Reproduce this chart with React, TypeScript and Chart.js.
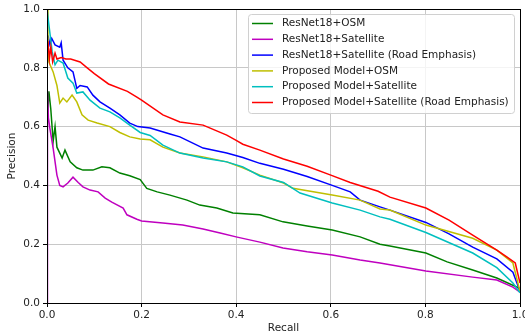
import React, { useEffect, useRef } from 'react';
import { Chart, registerables } from 'chart.js';

Chart.register(...registerables);

const seriesLabels = [
  'ResNet18+OSM',
  'ResNet18+Satellite',
  'ResNet18+Satellite (Road Emphasis)',
  'Proposed Model+OSM',
  'Proposed Model+Satellite',
  'Proposed Model+Satellite (Road Emphasis)',
];
const seriesColors = ['#008000', '#bf00bf', '#0000ff', '#bfbf00', '#00bfbf', '#ff0000'];

const xTicks = [0, 0.2, 0.4, 0.6, 0.8, 1.0];
const yTicks = [0, 0.2, 0.4, 0.6, 0.8, 1.0];

const greenRecall = [0, 0.004, 0.008, 0.013, 0.017, 0.021, 0.032, 0.038, 0.049, 0.063, 0.076, 0.097, 0.116, 0.133, 0.154, 0.175, 0.197, 0.211, 0.233, 0.26, 0.296, 0.323, 0.359, 0.393, 0.45, 0.499, 0.55, 0.603, 0.662, 0.704, 0.725, 0.801, 0.846, 0.9, 0.951, 0.998, 1.0];
const greenPrecision = [0.6, 0.72, 0.66, 0.55, 0.6, 0.53, 0.493, 0.52, 0.48, 0.46, 0.452, 0.452, 0.463, 0.46, 0.442, 0.433, 0.42, 0.39, 0.378, 0.367, 0.35, 0.333, 0.323, 0.306, 0.3, 0.276, 0.262, 0.248, 0.225, 0.2, 0.194, 0.17, 0.14, 0.112, 0.085, 0.051, 0.04];

const magentaRecall = [0, 0.001, 0.003, 0.006, 0.013, 0.021, 0.027, 0.034, 0.044, 0.055, 0.066, 0.076, 0.091, 0.108, 0.123, 0.137, 0.161, 0.169, 0.19, 0.2, 0.245, 0.287, 0.33, 0.366, 0.402, 0.45, 0.499, 0.55, 0.603, 0.662, 0.704, 0.801, 0.9, 0.951, 0.985, 1.0];
const magentaPrecision = [0, 0.72, 0.63, 0.595, 0.527, 0.435, 0.4, 0.395, 0.408, 0.428, 0.41, 0.395, 0.384, 0.378, 0.357, 0.343, 0.323, 0.3, 0.285, 0.279, 0.272, 0.265, 0.252, 0.238, 0.224, 0.207, 0.187, 0.174, 0.163, 0.146, 0.136, 0.109, 0.088, 0.078, 0.054, 0.037];

const blueRecall = [0.002, 0.006, 0.01, 0.017, 0.027, 0.03, 0.034, 0.044, 0.055, 0.063, 0.07, 0.085, 0.097, 0.112, 0.133, 0.154, 0.175, 0.192, 0.218, 0.26, 0.281, 0.33, 0.38, 0.414, 0.45, 0.5, 0.55, 0.603, 0.641, 0.662, 0.704, 0.725, 0.801, 0.85, 0.9, 0.951, 0.985, 1.0];
const bluePrecision = [0.91, 0.88, 0.9, 0.878, 0.87, 0.885, 0.826, 0.8, 0.786, 0.73, 0.74, 0.735, 0.707, 0.684, 0.663, 0.64, 0.612, 0.6, 0.595, 0.575, 0.565, 0.527, 0.51, 0.495, 0.475, 0.455, 0.43, 0.4, 0.378, 0.35, 0.327, 0.316, 0.274, 0.235, 0.19, 0.15, 0.105, 0.04];

const yellowRecall = [0, 0.002, 0.004, 0.013, 0.021, 0.027, 0.034, 0.042, 0.053, 0.063, 0.074, 0.087, 0.106, 0.133, 0.154, 0.175, 0.197, 0.218, 0.245, 0.281, 0.33, 0.38, 0.414, 0.45, 0.5, 0.52, 0.603, 0.662, 0.704, 0.725, 0.801, 0.9, 0.951, 0.985, 1.0];
const yellowPrecision = [1.0, 0.9, 0.82, 0.786, 0.74, 0.68, 0.697, 0.684, 0.707, 0.684, 0.64, 0.622, 0.612, 0.6, 0.58, 0.565, 0.558, 0.555, 0.53, 0.51, 0.497, 0.48, 0.46, 0.435, 0.408, 0.39, 0.367, 0.35, 0.32, 0.316, 0.265, 0.22, 0.18, 0.136, 0.04];

const cyanRecall = [0, 0.004, 0.011, 0.017, 0.023, 0.034, 0.044, 0.055, 0.063, 0.076, 0.091, 0.112, 0.133, 0.154, 0.175, 0.197, 0.218, 0.245, 0.281, 0.33, 0.38, 0.414, 0.45, 0.5, 0.535, 0.603, 0.662, 0.704, 0.725, 0.801, 0.9, 0.951, 0.985, 1.0];
const cyanPrecision = [1.0, 0.946, 0.854, 0.81, 0.826, 0.816, 0.765, 0.748, 0.714, 0.718, 0.69, 0.663, 0.65, 0.63, 0.605, 0.58, 0.57, 0.537, 0.51, 0.493, 0.48, 0.463, 0.432, 0.41, 0.374, 0.34, 0.316, 0.293, 0.285, 0.24, 0.17, 0.12, 0.068, 0.035];

const redRecall = [0, 0.002, 0.005, 0.008, 0.012, 0.017, 0.021, 0.03, 0.04, 0.05, 0.07, 0.085, 0.1, 0.13, 0.17, 0.19, 0.2, 0.245, 0.281, 0.33, 0.345, 0.38, 0.4, 0.414, 0.45, 0.5, 0.55, 0.6, 0.641, 0.7, 0.725, 0.801, 0.85, 0.9, 0.951, 0.972, 0.99, 1.0];
const redPrecision = [0.86, 0.89, 0.83, 0.87, 0.82, 0.85, 0.83, 0.835, 0.83, 0.83, 0.82, 0.8, 0.78, 0.745, 0.72, 0.7, 0.69, 0.64, 0.616, 0.605, 0.595, 0.571, 0.553, 0.54, 0.52, 0.49, 0.465, 0.435, 0.41, 0.38, 0.36, 0.323, 0.282, 0.231, 0.18, 0.157, 0.136, 0.068];

const recallSeries = [greenRecall, magentaRecall, blueRecall, yellowRecall, cyanRecall, redRecall];
const precisionSeries = [greenPrecision, magentaPrecision, bluePrecision, yellowPrecision, cyanPrecision, redPrecision];

const FONT = '"DejaVu Sans", sans-serif';
const TEXT = '#222222';

const framePlugin = {
  id: 'frameAndLegend',
  afterDatasetsDraw(chart: any) {
    const { ctx, chartArea } = chart;
    const l = Math.round(chartArea.left) + 0.5;
    const t = Math.round(chartArea.top) + 0.5;
    const r = Math.round(chartArea.right) + 0.5;
    const b = Math.round(chartArea.bottom) + 0.5;
    ctx.save();
    ctx.strokeStyle = '#000000';
    ctx.lineWidth = 1;
    ctx.strokeRect(l, t, r - l, b - t);

    // legend
    const bx = 248.5, by = 14.5, bw = 266, bh = 99;
    ctx.beginPath();
    if (ctx.roundRect) ctx.roundRect(bx, by, bw, bh, 3);
    else ctx.rect(bx, by, bw, bh);
    ctx.fillStyle = 'rgba(255,255,255,0.8)';
    ctx.fill();
    ctx.strokeStyle = '#d0d0d0';
    ctx.lineWidth = 1;
    ctx.stroke();
    ctx.font = '10.5px ' + FONT;
    ctx.textBaseline = 'middle';
    ctx.textAlign = 'left';
    chart.data.datasets.forEach((ds: any, i: number) => {
      const yy = 23.5 + i * 15.8;
      ctx.strokeStyle = ds.borderColor;
      ctx.lineWidth = 1.5;
      ctx.beginPath();
      ctx.moveTo(252, yy);
      ctx.lineTo(273, yy);
      ctx.stroke();
      ctx.fillStyle = TEXT;
      ctx.fillText(ds.label, 282, yy);
    });
    ctx.restore();
  },
};

export default function App() {
  const ref = useRef<HTMLCanvasElement>(null);
  useEffect(() => {
    document.body.style.margin = '0';
    const canvas = ref.current!;
    const datasets = seriesLabels.map((label, i) => ({
      label,
      data: recallSeries[i].map((x, j) => ({ x, y: precisionSeries[i][j] })),
      borderColor: seriesColors[i],
      backgroundColor: seriesColors[i],
      borderWidth: 1.5,
      pointRadius: 0,
      tension: 0,
      fill: false,
      order: seriesLabels.length - i,
    }));
    const chart = new Chart(canvas, {
      type: 'line',
      data: { datasets },
      options: {
        animation: false,
        responsive: false,
        devicePixelRatio: 1,
        layout: { padding: { top: 9, right: 5, bottom: 0, left: 0 } },
        plugins: { legend: { display: false }, tooltip: { enabled: false } },
        scales: {
          x: {
            type: 'linear',
            min: 0,
            max: 1,
            afterBuildTicks: (s: any) => { s.ticks = xTicks.map((v) => ({ value: v })); },
            afterFit: (s: any) => { s.height = 32; s.paddingLeft = 0; s.paddingRight = 0; },
            ticks: {
              callback: (v: any) => Number(v).toFixed(1),
              font: { family: FONT, size: 10.5 },
              color: TEXT,
              padding: 2,
              maxRotation: 0,
              autoSkip: false,
            },
            grid: { color: '#c8c8c8', lineWidth: 1, tickColor: '#000', tickLength: 4 },
            border: { display: false },
            title: { display: true, text: 'Recall', font: { family: FONT, size: 10.5 }, color: TEXT, padding: { top: 0, bottom: 0 } },
          },
          y: {
            type: 'linear',
            min: 0,
            max: 1,
            afterBuildTicks: (s: any) => { s.ticks = yTicks.map((v) => ({ value: v })); },
            afterFit: (s: any) => { s.width = 47; s.paddingTop = 0; s.paddingBottom = 0; },
            ticks: {
              callback: (v: any) => Number(v).toFixed(1),
              font: { family: FONT, size: 10.5 },
              color: TEXT,
              padding: 3,
              autoSkip: false,
            },
            grid: { color: '#c8c8c8', lineWidth: 1, tickColor: '#000', tickLength: 4 },
            border: { display: false },
            title: { display: true, text: 'Precision', font: { family: FONT, size: 10.5 }, color: TEXT, padding: { top: 6, bottom: 0 } },
          },
        },
      },
      plugins: [framePlugin],
    } as any);
    return () => chart.destroy();
  }, []);
  return <canvas ref={ref} width={525} height={335} style={{ display: 'block' }} />;
}
